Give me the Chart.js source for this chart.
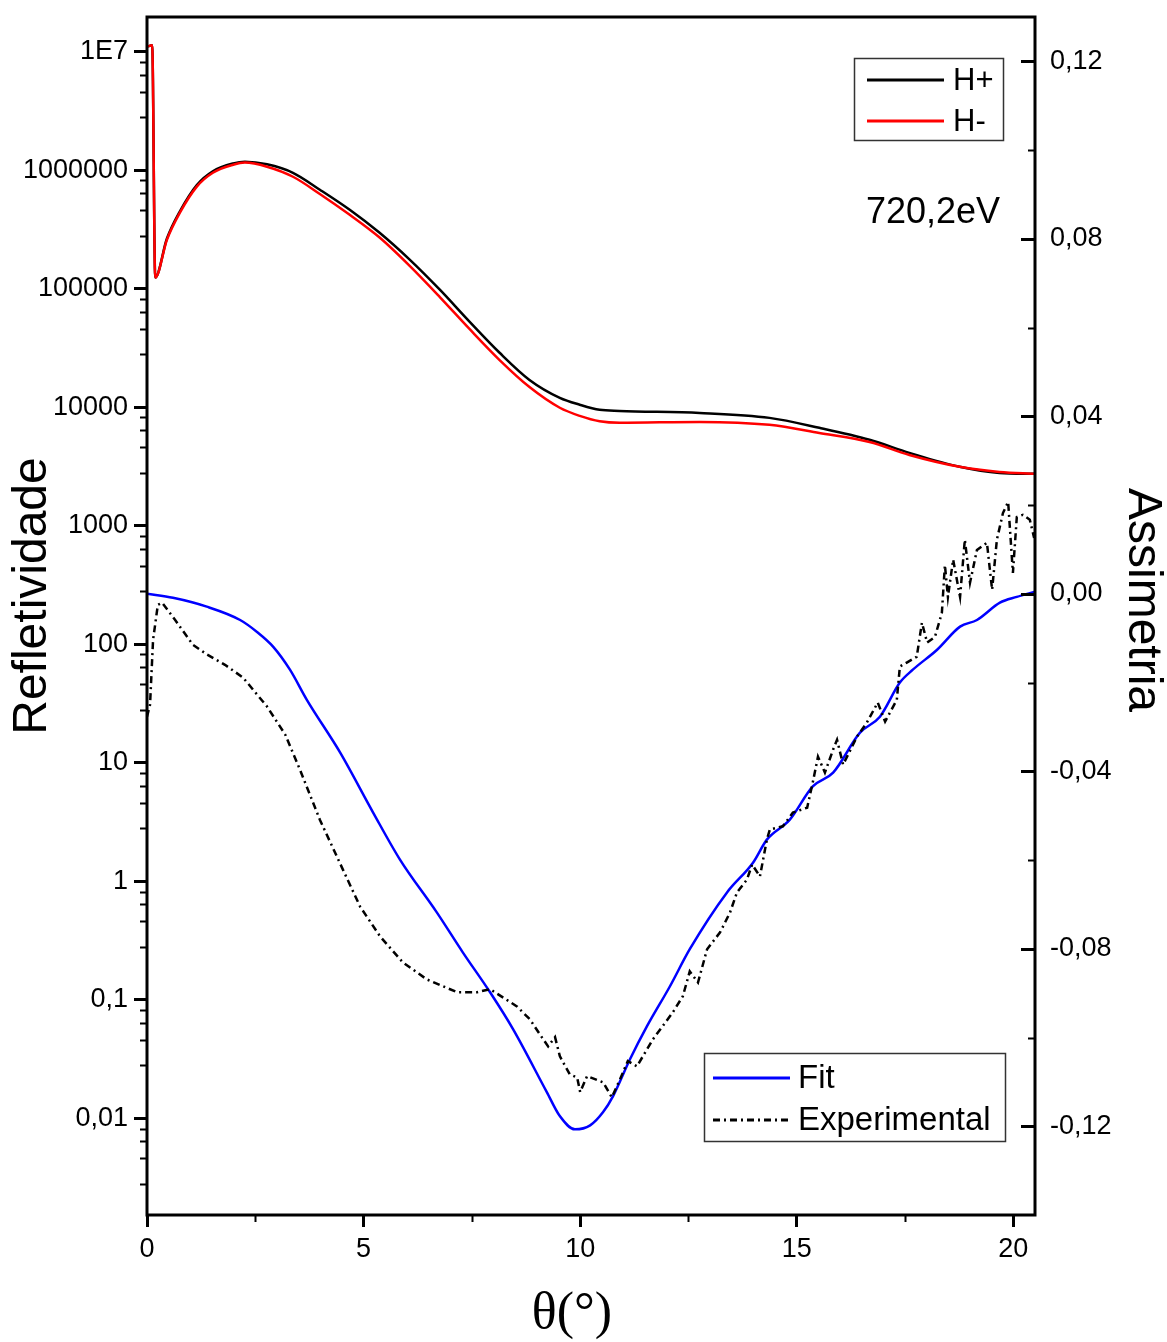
<!DOCTYPE html>
<html>
<head>
<meta charset="utf-8">
<script src="https://cdn.jsdelivr.net/npm/chart.js@4.4.1/dist/chart.umd.min.js"></script>
<style>
  html, body { margin: 0; padding: 0; background: #fff; overflow: hidden; }
  #wrap { width: 1167px; height: 1342px; position: relative; }
</style>
</head>
<body>
<div id="wrap"><canvas id="chart"></canvas></div>
<script>
// reflectivity curves (left, log axis)
const thetaH = [0, 0.12, 0.19, 0.46, 0.76, 1.15, 1.52, 1.99, 2.26, 2.77, 3.37, 3.99, 4.68, 5.37, 6.07, 6.76,
  7.45, 8.14, 8.83, 9.53, 9.99, 10.45, 10.91, 12.76, 14.37, 15.52, 16.68, 17.6, 18.76, 19.68, 20.5];
const hPlus = [1.1e7, 1.13e7, 1.24e5, 2.65e5, 4.5e5, 7.5e5, 9.8e5, 1.14e6, 1.18e6, 1.12e6, 9.5e5, 6.84e5, 4.63e5,
  2.96e5, 1.75e5, 9.8e4, 5.25e4, 2.88e4, 1.7e4, 1.2e4, 1.05e4, 9.5e3, 9.3e3, 8.95e3, 8.13e3, 6.7e3, 5.31e3,
  4.12e3, 3.14e3, 2.79e3, 2.74e3];
const hMinus = [1.1e7, 1.13e7, 1.24e5, 2.59e5, 4.38e5, 7.26e5, 9.5e5, 1.11e6, 1.16e6, 1.07e6, 8.8e5, 6.3e5, 4.2e5,
  2.7e5, 1.55e5, 8.5e4, 4.55e4, 2.5e4, 1.48e4, 9.9e3, 8.45e3, 7.6e3, 7.38e3, 7.52e3, 7.1e3, 6.07e3, 5.09e3,
  3.95e3, 3.14e3, 2.84e3, 2.74e3];

// asymmetry (right axis)
const thetaFit = [0, 0.6, 1.38, 2.15, 2.54, 2.91, 3.3, 3.69, 4.46, 5.22, 5.84, 6.69, 7.29, 7.92, 8.45, 9.23, 9.53,
  9.88, 10.23, 10.53, 10.76, 11.15, 11.54, 12.07, 12.53, 13.39, 13.99, 14.31, 14.84, 15.37, 15.84, 16.46, 16.92,
  17.38, 17.68, 18.24, 18.77, 19.16, 19.69, 20.08, 20.5];
const fitValues = [0, -0.0009, -0.0029, -0.0059, -0.0086, -0.0119, -0.0171, -0.0239, -0.0358, -0.0493, -0.0599,
  -0.0718, -0.0808, -0.0898, -0.0981, -0.1123, -0.1177, -0.1207, -0.1198, -0.1168, -0.1132, -0.1049, -0.0975,
  -0.0885, -0.0801, -0.0673, -0.0606, -0.0554, -0.0509, -0.0434, -0.0403, -0.0313, -0.0277, -0.02, -0.0171,
  -0.0126, -0.0074, -0.0059, -0.002, -0.0007, 0.0005];
const thetaExp = [0, 0.07, 0.14, 0.25, 0.35, 0.65, 1.06, 1.39, 1.8, 2.22, 2.77, 3.19, 3.53, 3.99, 4.52, 4.92, 5.38,
  5.91, 6.46, 7.16, 7.62, 7.92, 8.54, 8.84, 9.07, 9.26, 9.42, 9.53, 9.76, 9.93, 10.0, 10.16, 10.53, 10.73, 10.92,
  11.1, 11.31, 11.68, 12.14, 12.37, 12.53, 12.72, 12.93, 13.23, 13.46, 13.62, 13.85, 13.97, 14.15, 14.31, 14.38,
  14.68, 14.91, 15.24, 15.37, 15.49, 15.65, 15.84, 15.93, 16.07, 16.39, 16.62, 16.87, 17.04, 17.31, 17.38, 17.54,
  17.77, 17.89, 18.01, 18.19, 18.35, 18.42, 18.49, 18.61, 18.77, 18.88, 19.0, 19.16, 19.39, 19.51, 19.62, 19.76,
  19.88, 19.99, 20.08, 20.22, 20.38, 20.48];
const expValues = [-0.0277, -0.025, -0.0104, -0.0025, -0.002, -0.0059, -0.0115, -0.0137, -0.016, -0.0189, -0.0254,
  -0.0317, -0.0396, -0.0509, -0.0621, -0.0705, -0.0772, -0.0831, -0.0869, -0.0898, -0.0898, -0.0891, -0.093,
  -0.0959, -0.0993, -0.102, -0.0999, -0.1042, -0.1083, -0.109, -0.1123, -0.1087, -0.1101, -0.1135, -0.1094,
  -0.1053, -0.1065, -0.1004, -0.0943, -0.0907, -0.0851, -0.0876, -0.0801, -0.0763, -0.0718, -0.0673, -0.0644,
  -0.061, -0.0637, -0.0554, -0.0531, -0.0524, -0.0493, -0.0482, -0.0425, -0.0367, -0.0403, -0.0351, -0.0329,
  -0.0385, -0.0322, -0.029, -0.0245, -0.0288, -0.0239, -0.0164, -0.0155, -0.0142, -0.0065, -0.011, -0.0097,
  -0.0043, 0.0065, -0.0007, 0.0077, -0.0007, 0.0122, 0.0025, 0.0099, 0.0115, 0.0009, 0.0122, 0.0182, 0.0207,
  0.0047, 0.0173, 0.0178, 0.0167, 0.0126];

const xTickValues = [0, 5, 10, 15, 20];
const xTickLabels = ["0", "5", "10", "15", "20"];
const xMinorValues = [2.5, 7.5, 12.5, 17.5];
const leftTickValues = [0.01, 0.1, 1, 10, 100, 1000, 10000, 100000, 1000000, 10000000];
const leftTickLabels = ["0,01", "0,1", "1", "10", "100", "1000", "10000", "100000", "1000000", "1E7"];
const leftMinorSteps = [2.8, 4.6, 6.4, 8.2];
const rightTickValues = [-0.12, -0.08, -0.04, 0, 0.04, 0.08, 0.12];
const rightTickLabels = ["-0,12", "-0,08", "-0,04", "0,00", "0,04", "0,08", "0,12"];
const rightMinorValues = [-0.1, -0.06, -0.02, 0.02, 0.06, 0.1];

const SANS = "'Liberation Sans', Arial, sans-serif";
const SERIF = "'Liberation Serif', 'Times New Roman', serif";

function toPoints(xs, ys) {
  return xs.map((x, i) => ({ x, y: ys[i] }));
}

function fixedTicks(values) {
  return (scale) => {
    scale.ticks = values.map((value) => ({ value }));
  };
}

// pin the plot frame where the original has it
function fixedSize(size) {
  return (scale) => {
    if (scale.isHorizontal()) {
      scale.height = size;
    } else {
      scale.width = size;
    }
    scale.paddingTop = 0;
    scale.paddingBottom = 0;
    scale.paddingLeft = 0;
    scale.paddingRight = 0;
  };
}

const decorPlugin = {
  id: "decor",
  afterDraw(chart) {
    const { ctx, chartArea: area, scales } = chart;
    const xs = scales.x;
    const yl = scales.y;
    const yr = scales.y1;
    ctx.save();
    ctx.strokeStyle = "#000";
    ctx.lineCap = "butt";

    // minor ticks, left axis (outward)
    ctx.lineWidth = 2;
    ctx.beginPath();
    const decades = [leftTickValues[0] / 10, ...leftTickValues];
    decades.forEach((d) => {
      leftMinorSteps.forEach((s) => {
        const py = yl.getPixelForValue(d * s);
        if (py < area.top || py > area.bottom) return;
        ctx.moveTo(area.left - 7, Math.round(py) + 0.5);
        ctx.lineTo(area.left, Math.round(py) + 0.5);
      });
    });
    // minor ticks, bottom axis
    xMinorValues.forEach((v) => {
      const px = Math.round(xs.getPixelForValue(v)) + 0.5;
      ctx.moveTo(px, area.bottom);
      ctx.lineTo(px, area.bottom + 7);
    });
    // minor ticks, right axis (inward)
    rightMinorValues.forEach((v) => {
      const py = Math.round(yr.getPixelForValue(v)) + 0.5;
      ctx.moveTo(area.right - 7, py);
      ctx.lineTo(area.right, py);
    });
    ctx.stroke();

    // major ticks, right axis (inward)
    ctx.lineWidth = 3;
    ctx.beginPath();
    rightTickValues.forEach((v) => {
      const py = Math.round(yr.getPixelForValue(v)) + 0.5;
      ctx.moveTo(area.right - 14, py);
      ctx.lineTo(area.right, py);
    });
    ctx.stroke();

    // frame
    ctx.lineWidth = 3;
    ctx.strokeRect(area.left, area.top, area.right - area.left, area.bottom - area.top);

    // axis titles
    ctx.fillStyle = "#000";
    ctx.textAlign = "center";
    ctx.textBaseline = "middle";
    ctx.font = "48px " + SANS;
    ctx.save();
    ctx.translate(33, 596);
    ctx.rotate(-Math.PI / 2);
    ctx.fillText("Refletividade", 0, 0);
    ctx.restore();
    ctx.save();
    ctx.translate(1142, 600);
    ctx.rotate(Math.PI / 2);
    ctx.fillText("Assimetria", 0, 0);
    ctx.restore();
    ctx.font = "52px " + SERIF;
    ctx.fillText("\u03b8(\u00b0)", 572, 1314);

    // energy note
    ctx.textAlign = "left";
    ctx.textBaseline = "alphabetic";
    ctx.font = "36px " + SANS;
    ctx.fillText("720,2eV", 866, 223);

    // legends
    const ds = chart.data.datasets;
    drawLegend(ctx, { x: 854, y: 58, w: 149, h: 82 }, [ds[0], ds[1]], 31, 80, 41, 867, 944, 953);
    drawLegend(ctx, { x: 704, y: 1053, w: 301, h: 88 }, [ds[2], ds[3]], 33, 1078, 42, 713, 790, 798);
    ctx.restore();
  }
};

function drawLegend(ctx, box, sets, fontSize, firstY, rowGap, lineX0, lineX1, textX) {
  ctx.save();
  ctx.fillStyle = "#fff";
  ctx.fillRect(box.x, box.y, box.w, box.h);
  ctx.strokeStyle = "#333";
  ctx.lineWidth = 1.5;
  ctx.setLineDash([]);
  ctx.strokeRect(box.x + 0.5, box.y + 0.5, box.w, box.h);
  ctx.font = fontSize + "px " + SANS;
  ctx.textAlign = "left";
  ctx.textBaseline = "middle";
  sets.forEach((set, i) => {
    const y = firstY + i * rowGap;
    ctx.strokeStyle = set.borderColor;
    ctx.lineWidth = set.borderWidth + 0.5;
    ctx.setLineDash(set.borderDash || []);
    ctx.beginPath();
    ctx.moveTo(lineX0, y);
    ctx.lineTo(lineX1, y);
    ctx.stroke();
    ctx.setLineDash([]);
    ctx.fillStyle = "#000";
    ctx.fillText(set.label, textX, y + 1);
  });
  ctx.restore();
}

const tickFont = { family: SANS, size: 27 };

new Chart(document.getElementById("chart"), {
  type: "line",
  data: {
    datasets: [
      {
        label: "H+",
        data: toPoints(thetaH, hPlus),
        yAxisID: "y",
        borderColor: "#000000",
        borderWidth: 2.5,
        cubicInterpolationMode: "monotone",
        order: 2
      },
      {
        label: "H-",
        data: toPoints(thetaH, hMinus),
        yAxisID: "y",
        borderColor: "#ff0000",
        borderWidth: 2.5,
        cubicInterpolationMode: "monotone",
        order: 1
      },
      {
        label: "Fit",
        data: toPoints(thetaFit, fitValues),
        yAxisID: "y1",
        borderColor: "#0000ff",
        borderWidth: 2.5,
        cubicInterpolationMode: "monotone",
        order: 4
      },
      {
        label: "Experimental",
        data: toPoints(thetaExp, expValues),
        yAxisID: "y1",
        borderColor: "#000000",
        borderWidth: 2.5,
        borderDash: [7, 4, 2, 4],
        tension: 0,
        order: 3
      }
    ]
  },
  options: {
    responsive: true,
    maintainAspectRatio: false,
    animation: false,
    events: [],
    elements: { point: { radius: 0 } },
    layout: { padding: { top: 17, left: 0, right: 0, bottom: 0 } },
    plugins: { legend: { display: false }, tooltip: { enabled: false } },
    scales: {
      x: {
        type: "linear",
        position: "bottom",
        min: 0,
        max: 20.5,
        afterBuildTicks: fixedTicks(xTickValues),
        afterFit: fixedSize(127),
        border: { display: false },
        grid: { drawOnChartArea: false, drawTicks: true, tickLength: 12, lineWidth: 3, color: "#000" },
        ticks: {
          font: tickFont,
          color: "#000",
          padding: 6,
          maxRotation: 0,
          callback: (value, index) => xTickLabels[index]
        }
      },
      y: {
        type: "logarithmic",
        position: "left",
        min: 1.53e-3,
        max: 1.96e7,
        afterBuildTicks: fixedTicks(leftTickValues),
        afterFit: fixedSize(147),
        border: { display: false },
        grid: { drawOnChartArea: false, drawTicks: true, tickLength: 13, lineWidth: 3, color: "#000" },
        ticks: {
          font: tickFont,
          color: "#000",
          padding: 6,
          callback: (value, index) => leftTickLabels[index]
        }
      },
      y1: {
        type: "linear",
        position: "right",
        min: -0.14,
        max: 0.13,
        afterBuildTicks: fixedTicks(rightTickValues),
        afterFit: fixedSize(132),
        border: { display: false },
        grid: { display: false, drawTicks: false },
        ticks: {
          font: tickFont,
          color: "#000",
          padding: 15,
          callback: (value, index) => rightTickLabels[index]
        }
      }
    }
  },
  plugins: [decorPlugin]
});
</script>
</body>
</html>
